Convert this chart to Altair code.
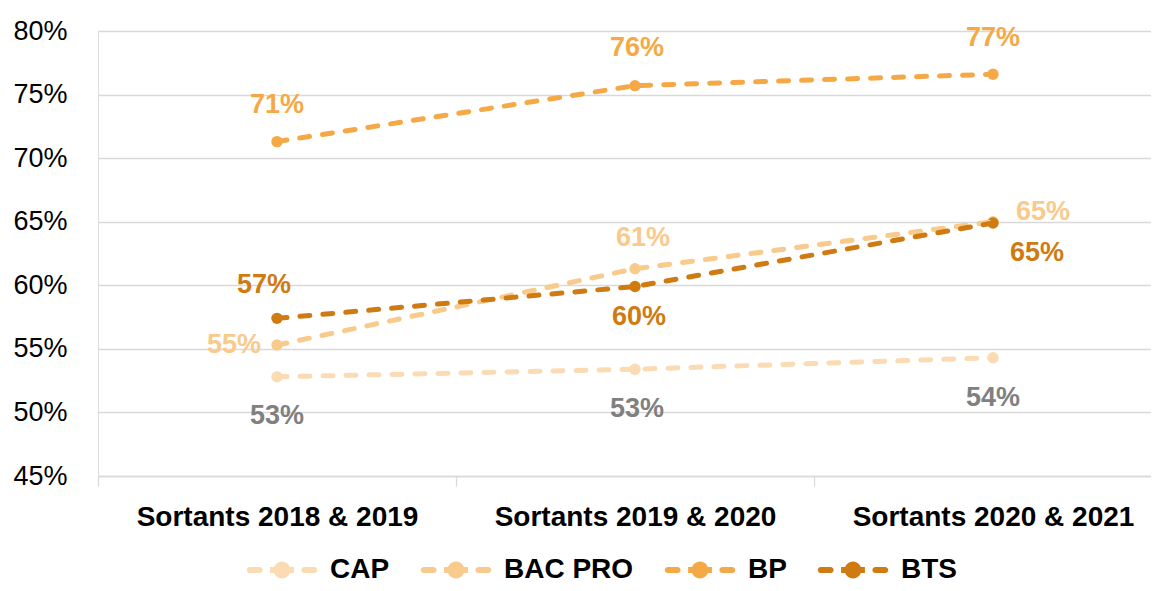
import altair as alt
import pandas as pd

categories = ["Sortants 2018 & 2019", "Sortants 2019 & 2020", "Sortants 2020 & 2021"]
series = ["CAP", "BAC PRO", "BP", "BTS"]
cap = [52.8, 53.4, 54.3]
bac_pro = [55.3, 61.3, 65.0]
bp = [71.3, 75.7, 76.6]
bts = [57.4, 59.9, 64.9]
y_ticks = [45, 50, 55, 60, 65, 70, 75, 80]

values = {"CAP": cap, "BAC PRO": bac_pro, "BP": bp, "BTS": bts}

# styles
line_colors = ["#FADBB3", "#F8CA8C", "#F5A946", "#CF7B12"]
label_colors = {"CAP": "#808080", "BAC PRO": "#F8CA8C", "BP": "#F5A946", "BTS": "#CF7B12"}
label_offsets = {
    "CAP": [(0, 39), (2, 40), (0, 40)],
    "BAC PRO": [(-43, 0), (8, -31), (50, -10)],
    "BP": [(0, -37), (2, -38), (0, -36)],
    "BTS": [(-13, -33), (4, 30), (44, 30)],
}
FONT = "Liberation Sans"

rows = []
for s in series:
    for i, c in enumerate(categories):
        rows.append({"serie": s, "idx": i, "cat": c, "value": values[s][i]})
df = pd.DataFrame(rows)

W, H = 1053, 445
step = 358
x_domain = [-0.5, -0.5 + W / step]

names_js = "[" + ",".join("'" + c + "'" for c in categories) + "]"

x_enc = alt.X(
    "idx:Q",
    scale=alt.Scale(domain=x_domain, nice=False, zero=False),
    axis=alt.Axis(
        values=[-0.5, 0, 0.5, 1, 1.5, 2],
        labelExpr=f"datum.value % 1 === 0 ? {names_js}[datum.value] : ''",
        title=None,
        grid=False,
        domainColor="#D9D9D9",
        domainWidth=1.3,
        tickColor="#D9D9D9",
        tickWidth=1.3,
        tickSize=10,
        tickOpacity={"condition": {"test": "datum.value % 1 === 0", "value": 0}, "value": 1},
        labelFont=FONT,
        labelFontSize=28,
        labelFontWeight="bold",
        labelColor="#000000",
        labelPadding=17,
        labelFlush=False,
        labelOverlap=False,
        labelLimit=500,
    ),
)
y_enc = alt.Y(
    "value:Q",
    scale=alt.Scale(domain=[45, 80], nice=False, zero=False),
    axis=alt.Axis(
        values=y_ticks,
        labelExpr="datum.value + '%'",
        title=None,
        domain=False,
        ticks=False,
        grid=True,
        gridColor="#D9D9D9",
        gridWidth=1.3,
        labelFont=FONT,
        labelFontSize=27,
        labelColor="#000000",
        labelPadding=31,
    ),
)

# legend symbol: dash - marker - dash, drawn inside a 70px box
legend_path = (
    "M-0.92,-0.086 L-0.64,-0.086 A0.086,0.086 0 0 1 -0.64,0.086 L-0.92,0.086 "
    "A0.086,0.086 0 0 1 -0.92,-0.086 Z "
    "M0.64,-0.086 L0.92,-0.086 A0.086,0.086 0 0 1 0.92,0.086 L0.64,0.086 "
    "A0.086,0.086 0 0 1 0.64,-0.086 Z "
    "M0.24,0 A0.24,0.24 0 1 1 -0.24,0 A0.24,0.24 0 1 1 0.24,0 Z "
    "M-0.34,-0.086 L0.34,-0.086 L0.34,0.086 L-0.34,0.086 Z"
)

color_scale = alt.Scale(domain=series, range=line_colors)

base = alt.Chart(df)

points = base.mark_point(size=130, opacity=1, filled=True, shape="circle").encode(
    x=x_enc,
    y=y_enc,
    color=alt.Color(
        "serie:N",
        scale=color_scale,
        sort=series,
        legend=alt.Legend(
            title=None,
            orient="none",
            direction="horizontal",
            legendX=149,
            legendY=504,
            padding=0,
            symbolType=legend_path,
            symbolSize=4900,
            symbolStrokeWidth=0,
            symbolOpacity=1,
            labelFont=FONT,
            labelFontSize=28,
            labelFontWeight="bold",
            labelColor="#000000",
            labelOffset=13,
            columnPadding=30,
            labelLimit=300,
        ),
    ),
)

lines = base.mark_line(strokeWidth=5, strokeDash=[10, 13], strokeCap="round").encode(
    x=alt.X("idx:Q"),
    y=alt.Y("value:Q"),
    color=alt.Color("serie:N", scale=color_scale, sort=series),
    order=alt.Order("idx:Q"),
    detail="serie:N",
)

texts = []
for s in series:
    for i in range(len(categories)):
        dx, dy = label_offsets[s][i]
        t = (
            base.transform_filter(f"datum.serie === '{s}' && datum.idx === {i}")
            .transform_calculate(lbl="format(datum.value, '.0f') + '%'")
            .mark_text(
                font=FONT,
                fontSize=27,
                fontWeight="bold",
                color=label_colors[s],
                dx=dx,
                dy=dy,
                align="center",
                baseline="middle",
            )
            .encode(x=alt.X("idx:Q"), y=alt.Y("value:Q"), text="lbl:N")
        )
        texts.append(t)

chart = alt.layer(points, lines, *texts).properties(
    width=W,
    height=H,
    autosize=alt.AutoSizeParams(type="none"),
    padding={"left": 90, "top": 23, "right": 0, "bottom": 572 - 23 - H},
).configure_view(stroke=None).configure(background="white")

chart.save("out.html", embed_options={"renderer": "svg", "actions": False})
